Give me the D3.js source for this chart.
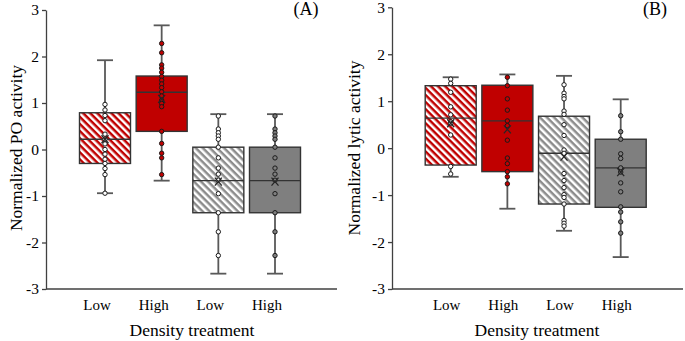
<!DOCTYPE html>
<html>
<head>
<meta charset="utf-8">
<script src="https://cdn.jsdelivr.net/npm/d3@7"></script>
<style>
  body { margin: 0; background: #fff; }
  svg { display: block; font-family: 'Liberation Serif', 'Times New Roman', serif; }
</style>
</head>
<body>
<div id="chart"></div>
<script>
// Treatment labels along the x axis
const groups = ['Low', 'High', 'Low', 'High'];
const yTicks = [-3, -2, -1, 0, 1, 2, 3];

// Box statistics per group: [lower whisker, Q1, median, Q3, upper whisker]
const poBoxes = [
    [-0.94, -0.30, 0.22, 0.79, 1.92],
    [-0.67, 0.39, 1.23, 1.58, 2.67],
    [-2.67, -1.36, -0.67, 0.05, 0.76],
    [-2.67, -1.36, -0.67, 0.05, 0.76]
];
const poMeans = [0.22, 1.09, -0.69, -0.69];
const poPoints = [
    [0.97, 0.85, 0.73, 0.62, 0.33, 0.22, 0.12, 0.00, -0.10, -0.21, -0.30, -0.41, -0.54, -0.94],
    [2.28, 2.08, 1.82, 1.75, 1.66, 1.57, 1.49, 1.41, 1.33, 1.24, 1.15, 1.06, 0.99, 0.92, 0.39, 0.13, -0.08, -0.18, -0.54],
    [0.72, 0.44, 0.36, 0.29, 0.22, 0.05, -0.18, -0.40, -0.53, -0.66, -0.95, -1.36, -1.77, -2.28],
    [0.72, 0.44, 0.36, 0.29, 0.22, 0.05, -0.18, -0.40, -0.53, -0.66, -0.95, -1.36, -1.77, -2.28]
];

const lyticBoxes = [
    [-0.61, -0.36, 0.64, 1.33, 1.51],
    [-1.29, -0.50, 0.58, 1.34, 1.57],
    [-1.76, -1.19, -0.11, 0.68, 1.54],
    [-2.32, -1.26, -0.42, 0.19, 1.04]
];
const lyticMeans = [0.53, 0.40, -0.18, -0.51];
const lyticPoints = [
    [1.47, 1.38, 1.19, 0.88, 0.71, 0.56, 0.53, 0.28, -0.39, -0.55],
    [1.51, 1.33, 1.05, 0.81, 0.58, 0.48, 0.17, -0.21, -0.33, -0.50, -0.61, -0.76],
    [1.35, 1.17, 1.10, 1.05, 0.79, 0.72, 0.50, 0.27, -0.04, -0.11, -0.54, -0.69, -0.84, -0.99, -1.05, -1.19, -1.54, -1.60, -1.66],
    [0.69, 0.35, 0.19, -0.12, -0.22, -0.42, -0.51, -0.74, -0.93, -1.25, -1.36, -1.57, -1.81]
];

const boxFills = ['url(#hatch-red)', '#c00000', 'url(#hatch-gray)', '#7f7f7f'];
const pointFills = ['#ffffff', '#c00000', '#ffffff', '#7f7f7f'];

const svg = d3.select('#chart').append('svg')
    .attr('width', 685)
    .attr('height', 341);

// Diagonal stripe fills for the "Low" boxes
const defs = svg.append('defs');
function addHatch(id, color) {
    const p = defs.append('pattern')
        .attr('id', id)
        .attr('patternUnits', 'userSpaceOnUse')
        .attr('width', 8)
        .attr('height', 5)
        .attr('patternTransform', 'rotate(45)');
    p.append('rect').attr('width', 8).attr('height', 5).attr('fill', '#fff');
    p.append('rect').attr('width', 8).attr('height', 2.5).attr('fill', color);
}
addHatch('hatch-red', '#c00000');
addHatch('hatch-gray', '#8c8c8c');

class BoxPanel {
    constructor(_config, boxes, means, points) {
        this.config = _config;
        this.boxes = boxes;
        this.means = means;
        this.points = points;
        this.render();
    }

    render() {
        let vis = this;
        const c = vis.config;
        const g = svg.append('g');

        vis.y = d3.scaleLinear().domain([-3, 3]).range([c.bottom, c.top]);
        vis.x = d3.scaleBand().domain(d3.range(groups.length))
            .range([c.boxStart, c.boxEnd])
            .paddingInner(0.1)
            .paddingOuter(0);
        const bw = vis.x.bandwidth();
        const cx = i => vis.x(i) + bw / 2;

        // y axis
        const yAxis = g.append('g')
            .attr('transform', `translate(${c.left},0)`)
            .call(d3.axisLeft(vis.y).tickValues(yTicks).tickSize(4).tickSizeOuter(0).tickFormat(d => String(d)));
        yAxis.select('.domain').attr('stroke', '#404040').attr('stroke-width', 1.3);
        yAxis.selectAll('.tick line').attr('stroke', '#404040').attr('stroke-width', 1.3);
        yAxis.selectAll('.tick text')
            .attr('font-family', 'Liberation Serif')
            .attr('font-size', 15.5)
            .attr('fill', '#000')
            .attr('x', -7);

        // x axis baseline
        g.append('line')
            .attr('x1', c.left).attr('x2', c.right)
            .attr('y1', vis.y(-3)).attr('y2', vis.y(-3))
            .attr('stroke', '#404040').attr('stroke-width', 1.3);

        const items = vis.boxes.map((b, i) => ({ i, b, mean: vis.means[i], pts: vis.points[i] }));

        // whiskers and caps
        const wh = g.selectAll('.whisker').data(items).enter().append('g').attr('class', 'whisker');
        wh.append('line')
            .attr('x1', d => cx(d.i)).attr('x2', d => cx(d.i))
            .attr('y1', d => vis.y(d.b[3])).attr('y2', d => vis.y(d.b[4]));
        wh.append('line')
            .attr('x1', d => cx(d.i)).attr('x2', d => cx(d.i))
            .attr('y1', d => vis.y(d.b[1])).attr('y2', d => vis.y(d.b[0]));
        wh.append('line')
            .attr('x1', d => cx(d.i) - 8).attr('x2', d => cx(d.i) + 8)
            .attr('y1', d => vis.y(d.b[4])).attr('y2', d => vis.y(d.b[4]));
        wh.append('line')
            .attr('x1', d => cx(d.i) - 8).attr('x2', d => cx(d.i) + 8)
            .attr('y1', d => vis.y(d.b[0])).attr('y2', d => vis.y(d.b[0]));
        wh.selectAll('line').attr('stroke', '#595959').attr('stroke-width', 1.8);

        // boxes
        g.selectAll('.box').data(items).enter().append('rect')
            .attr('class', 'box')
            .attr('x', d => vis.x(d.i))
            .attr('width', bw)
            .attr('y', d => vis.y(d.b[3]))
            .attr('height', d => vis.y(d.b[1]) - vis.y(d.b[3]))
            .attr('fill', d => boxFills[d.i])
            .attr('stroke', '#333')
            .attr('stroke-width', 1.4);

        // medians
        g.selectAll('.median').data(items).enter().append('line')
            .attr('class', 'median')
            .attr('x1', d => vis.x(d.i)).attr('x2', d => vis.x(d.i) + bw)
            .attr('y1', d => vis.y(d.b[2])).attr('y2', d => vis.y(d.b[2]))
            .attr('stroke', '#333').attr('stroke-width', 1.4);

        // individual observations
        items.forEach(d => {
            g.selectAll(null).data(d.pts).enter().append('circle')
                .attr('cx', cx(d.i))
                .attr('cy', v => vis.y(v))
                .attr('r', 2.2)
                .attr('fill', pointFills[d.i])
                .attr('stroke', '#1a1a1a')
                .attr('stroke-width', 1);
        });

        // means
        g.selectAll('.mean').data(items).enter().append('path')
            .attr('class', 'mean')
            .attr('transform', d => `translate(${cx(d.i)},${vis.y(d.mean)})`)
            .attr('d', 'M-3.5,-4L3.5,4M-3.5,4L3.5,-4')
            .attr('stroke', '#262626').attr('stroke-width', 1.3).attr('fill', 'none');

        // category labels
        g.selectAll('.cat').data(items).enter().append('text')
            .attr('class', 'cat')
            .attr('x', d => cx(d.i) + c.labelShift)
            .attr('y', 310)
            .attr('text-anchor', 'middle')
            .attr('font-size', 15)
            .text(d => groups[d.i]);

        g.append('text')
            .attr('x', c.xTitleX).attr('y', 336)
            .attr('text-anchor', 'middle')
            .attr('font-size', 17.5)
            .text('Density treatment');

        g.append('text')
            .attr('transform', `translate(${c.yTitleX},148) rotate(-90)`)
            .attr('text-anchor', 'middle')
            .attr('font-size', 17.5)
            .text(c.yTitle);

        g.append('text')
            .attr('x', c.tagX).attr('y', 15)
            .attr('text-anchor', 'middle')
            .attr('font-size', 18)
            .text(c.tag);
    }
}

new BoxPanel({
    left: 46, right: 337, top: 10, bottom: 289,
    boxStart: 79.5, boxEnd: 300.5, labelShift: -8,
    xTitleX: 192, yTitleX: 22, yTitle: 'Normalized PO activity',
    tag: '(A)', tagX: 306
}, poBoxes, poMeans, poPoints);

new BoxPanel({
    left: 392, right: 683, top: 7.3, bottom: 289,
    boxStart: 425.2, boxEnd: 646.2, labelShift: -4,
    xTitleX: 537, yTitleX: 360, yTitle: 'Normalized lytic activity',
    tag: '(B)', tagX: 655
}, lyticBoxes, lyticMeans, lyticPoints);
</script>
</body>
</html>
